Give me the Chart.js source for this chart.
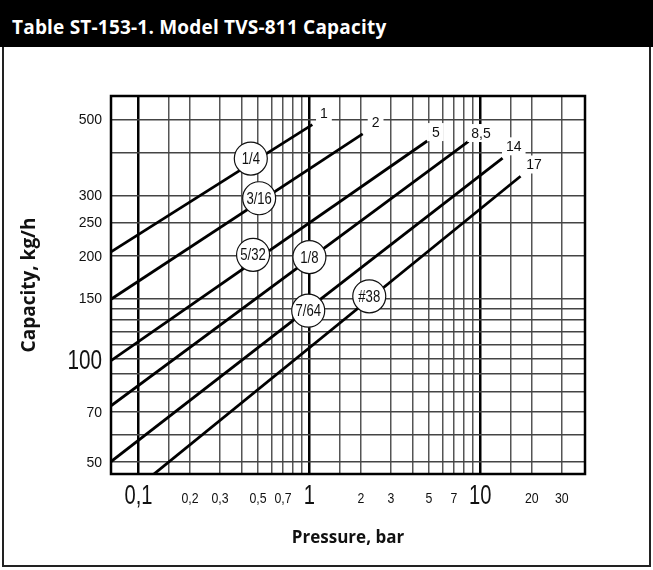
<!DOCTYPE html>
<html>
<head>
<meta charset="utf-8">
<script src="https://cdn.jsdelivr.net/npm/chart.js@4.4.1/dist/chart.umd.min.js"></script>
<style>
body { margin: 0; background: #fff; width: 653px; height: 570px; overflow: hidden; position: relative; }
#frame { position: absolute; left: 2px; top: 40px; width: 645px; height: 523px; border: 2px solid #222; }
#head { position: absolute; left: 0; top: 0; width: 653px; height: 47px; background: #000; }
#head span { position: absolute; left: 12px; top: 16px; color: #fff; font: bold 19px/22px 'Open Sans', Lato, sans-serif; letter-spacing: 0.2px; }
canvas { position: absolute; left: 0; top: 0; }
</style>
</head>
<body>
<div id="frame"></div>
<div id="head"><span>Table ST-153-1. Model TVS-811 Capacity</span></div>
<canvas id="myChart" width="653" height="570"></canvas>
<script>
var plain = "'Liberation Sans', Arial, sans-serif";
var bold = "'Open Sans', Lato, sans-serif";

// grid and tick values
var pressureGrid = [0.1, 0.15, 0.2, 0.3, 0.4, 0.5, 0.6, 0.7, 0.8, 0.9, 1, 1.5, 2, 3, 4, 5, 6, 7, 8, 9, 10, 15, 20, 30];
var pressureTicks = [0.1, 0.2, 0.3, 0.5, 0.7, 1, 2, 3, 5, 7, 10, 20, 30];
var pressureTickLabels = ['0,1', '0,2', '0,3', '0,5', '0,7', '1', '2', '3', '5', '7', '10', '20', '30'];
var majorPressure = [0.1, 1, 10];
var capacityGrid = [50, 60, 70, 80, 90, 100, 110, 120, 130, 140, 150, 200, 250, 300, 400, 500];
var capacityTicks = [50, 70, 100, 150, 200, 250, 300, 500];
var capacityTickLabels = ['50', '70', '100', '150', '200', '250', '300', '500'];
var majorCapacity = [100];

// one line per orifice size, start and end of each line
var orifices = ['1/4', '3/16', '5/32', '1/8', '7/64', '#38'];
var maxPressure = ['1', '2', '5', '8,5', '14', '17'];
var startP = [0.069, 0.069, 0.069, 0.069, 0.069, 0.1225];
var startCap = [205, 149, 98.6, 72.8, 50, 45.9];
var endP = [1.04, 2.05, 4.89, 8.53, 13.5, 17.2];
var endCap = [482.6, 453.6, 432.2, 431, 385.4, 341];

// where the circled size and the max pressure tag sit
var sizeP = [0.454, 0.508, 0.468, 1.0, 0.984, 2.24];
var sizeCap = [384, 294, 201, 198, 138, 152];
var tagP = [1.216, 2.44, 5.5, 10.1, 15.7, 20.6];
var tagCap = [519.6, 491, 459, 456, 417, 369];

var datasets = orifices.map(function (name, i) {
    return {
        label: name,
        data: [{ x: startP[i], y: startCap[i] }, { x: endP[i], y: endCap[i] }],
        borderColor: '#000',
        borderWidth: 2.8,
        pointRadius: 0,
        fill: false,
        tension: 0
    };
});

// condensed text, the scan uses a narrow face
function narrowText(ctx, text, px, py, size, squeeze, align) {
    ctx.save();
    ctx.translate(px, py);
    ctx.scale(squeeze, 1);
    ctx.font = size + 'px ' + plain;
    ctx.textAlign = align;
    ctx.textBaseline = 'alphabetic';
    ctx.fillText(text, 0, 0);
    ctx.restore();
}

var chartLabels = {
    id: 'chartLabels',
    afterDatasetsDraw: function (chart) {
        var ctx = chart.ctx;
        var a = chart.chartArea;
        var x = chart.scales.x, y = chart.scales.y;
        ctx.save();
        ctx.textAlign = 'center';
        ctx.textBaseline = 'middle';

        // max pressure tags at line ends
        ctx.font = '14px ' + plain;
        maxPressure.forEach(function (t, i) {
            var px = x.getPixelForValue(tagP[i]);
            var py = y.getPixelForValue(tagCap[i]);
            var w = ctx.measureText(t).width + 8;
            ctx.fillStyle = '#fff';
            ctx.fillRect(px - w / 2, py - 9, w, 18);
            ctx.fillStyle = '#111';
            ctx.fillText(t, px, py + 1);
        });

        // circled orifice sizes
        orifices.forEach(function (t, i) {
            var px = x.getPixelForValue(sizeP[i]);
            var py = y.getPixelForValue(sizeCap[i]);
            ctx.beginPath();
            ctx.arc(px, py, 16.5, 0, Math.PI * 2);
            ctx.fillStyle = '#fff';
            ctx.fill();
            ctx.lineWidth = 1.2;
            ctx.strokeStyle = '#111';
            ctx.stroke();
            ctx.fillStyle = '#111';
            narrowText(ctx, t, px, py + 5.5, 16, 0.82, 'center');
        });

        // plot frame
        ctx.lineWidth = 2.5;
        ctx.strokeStyle = '#000';
        ctx.strokeRect(a.left, a.top, a.right - a.left, a.bottom - a.top);

        // tick labels
        ctx.fillStyle = '#111';
        pressureTicks.forEach(function (v, i) {
            var px = x.getPixelForValue(v);
            if (majorPressure.indexOf(v) >= 0) {
                narrowText(ctx, pressureTickLabels[i], px, a.bottom + 30, 28, 0.72, 'center');
            } else {
                narrowText(ctx, pressureTickLabels[i], px, a.bottom + 29, 15, 0.82, 'center');
            }
        });
        capacityTicks.forEach(function (v, i) {
            var py = y.getPixelForValue(v);
            if (majorCapacity.indexOf(v) >= 0) {
                narrowText(ctx, capacityTickLabels[i], a.left - 9, py + 10, 28, 0.74, 'right');
            } else {
                narrowText(ctx, capacityTickLabels[i], a.left - 9, py + 5, 14, 1, 'right');
            }
        });
        ctx.restore();
    }
};

var myChart = new Chart(document.getElementById('myChart').getContext('2d'), {
    type: 'line',
    data: { datasets: datasets },
    plugins: [chartLabels],
    options: {
        responsive: false,
        animation: false,
        layout: { padding: { left: 16, right: 68, top: 96, bottom: 0 } },
        plugins: {
            legend: { display: false },
            tooltip: { enabled: false }
        },
        scales: {
            x: {
                type: 'logarithmic',
                min: 0.069,
                max: 41,
                afterBuildTicks: function (scale) {
                    scale.ticks = pressureGrid.map(function (v) { return { value: v }; });
                },
                afterFit: function (scale) { scale.height = 96; },
                border: { display: false },
                grid: {
                    drawTicks: false,
                    color: function (c) { return majorPressure.indexOf(c.tick.value) >= 0 ? '#000' : '#555'; },
                    lineWidth: function (c) { return majorPressure.indexOf(c.tick.value) >= 0 ? 2.5 : 1.5; }
                },
                ticks: { display: false },
                title: {
                    display: true,
                    text: 'Pressure, bar',
                    color: '#111',
                    font: { family: bold, size: 17, weight: 'bold' },
                    padding: { top: 0, bottom: 22 }
                }
            },
            y: {
                type: 'logarithmic',
                min: 46,
                max: 585,
                afterBuildTicks: function (scale) {
                    scale.ticks = capacityGrid.map(function (v) { return { value: v }; });
                },
                afterFit: function (scale) { scale.width = 95; },
                border: { display: false },
                grid: {
                    drawTicks: false,
                    color: '#444',
                    lineWidth: 1.5
                },
                ticks: { display: false },
                title: {
                    display: true,
                    text: 'Capacity, kg/h',
                    color: '#111',
                    font: { family: bold, size: 19, weight: 'bold' },
                    padding: { top: 2, bottom: 0 }
                }
            }
        }
    }
});
</script>
</body>
</html>
